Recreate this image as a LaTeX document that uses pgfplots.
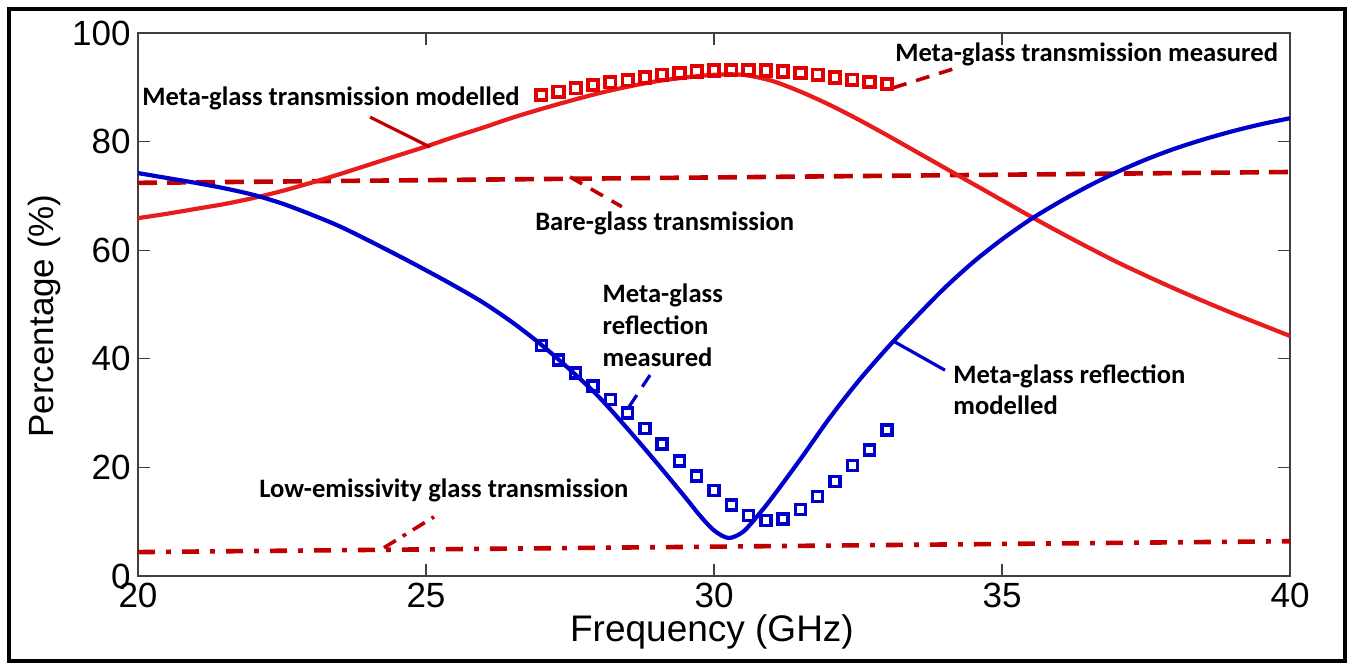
\documentclass[border=0pt]{standalone}
\usepackage{fontspec}
\setmainfont{Liberation Sans}
\newfontfamily\carlito{Carlito}
\usepackage{pgfplots}
\pgfplotsset{compat=1.18}
\definecolor{mred}{RGB}{232,28,28}
\definecolor{dred}{RGB}{192,0,0}
\definecolor{mblue}{RGB}{0,0,205}
\definecolor{sred}{RGB}{228,0,0}
\tikzset{annot/.style={font=\carlito\bfseries\fontsize{13.3}{16}\selectfont, anchor=base west, inner sep=0pt, text=black}}
\begin{document}
\begin{tikzpicture}
\useasboundingbox (0,0) rectangle (677pt,336pt);
\begin{axis}[
  at={(69pt,48pt)}, anchor=south west,
  width=576pt, height=271.5pt, scale only axis,
  xmin=20, xmax=40, ymin=0, ymax=100,
  xtick={20,25,30,35,40}, ytick={0,20,40,60,80,100},
  tick align=inside, major tick length=6pt,
  xtick pos=both, ytick pos=both,
  xticklabel pos=lower, yticklabel pos=left,
  axis line style={black!75, line width=0.6pt},
  tick style={black!75, line width=0.6pt},
  ticklabel style={font=\fontsize{17.5}{20}\selectfont},
  yticklabel style={inner xsep=3.5pt},
  /pgf/number format/assume math mode=true,
]
% bare-glass transmission
\addplot[dred, line width=2.3pt, dash pattern=on 9.5pt off 5pt] coordinates {(20,72.4) (25,72.9) (30,73.4) (35,73.9) (40,74.4)};
% low-emissivity glass transmission
\addplot[dred, line width=2.3pt, dash pattern=on 8.5pt off 5.6pt on 2.3pt off 5.6pt] coordinates {(20,4.4) (25,4.9) (30,5.4) (35,5.9) (40,6.4)};
% meta-glass transmission modelled
\addplot[mred, line width=2.1pt, smooth] coordinates {
(20,65.9) (20.5,66.7) (21,67.6) (21.5,68.5) (22,69.6) (22.5,70.9) (23,72.4) (23.5,74.0)
(24,75.7) (24.5,77.4) (25,79.1) (25.5,80.9) (26,82.6) (26.5,84.4) (27,86.0) (27.5,87.5)
(28,88.9) (28.5,90.1) (29,91.1) (29.5,91.8) (30,92.3) (30.5,92.3) (31,91.2) (31.5,89.2)
(32,86.8) (32.5,84.1) (33,81.2) (33.5,78.2) (34,75.2) (34.5,72.2) (35,69.2) (35.5,66.2)
(36,63.3) (36.5,60.5) (37,57.8) (37.5,55.3) (38,52.9) (38.5,50.6) (39,48.4) (39.5,46.3)
(40,44.2)};
% meta-glass reflection modelled
\addplot[mblue, line width=2.1pt, smooth] coordinates {
(20,74.2) (20.5,73.3) (21,72.4) (21.5,71.4) (22,70.2) (22.5,68.6) (23,66.6) (23.5,64.4)
(24,61.8) (24.5,59.1) (25,56.3) (25.5,53.4) (26,50.3) (26.5,46.7) (27,42.6) (27.5,38.0)
(28,33.0) (28.5,27.1) (29,20.9) (29.5,14.5) (29.75,11.2) (30,8.4) (30.25,7.0) (30.5,8.1)
(30.75,11.0) (31,14.3) (31.5,21.5) (32,29.0) (32.5,35.8) (33,41.9) (33.5,47.6) (34,53.0)
(34.5,57.8) (35,62.0) (35.5,65.7) (36,68.9) (36.5,71.8) (37,74.4) (37.5,76.7) (38,78.7)
(38.5,80.4) (39,81.9) (39.5,83.2) (40,84.3)};
% meta-glass transmission measured
\addplot[only marks, sred, mark=square, mark size=2.6pt, mark options={line width=1.9pt, solid}] coordinates {
(27.0,88.6) (27.3,89.2) (27.6,89.8) (27.9,90.4) (28.2,90.9) (28.5,91.3) (28.8,91.8)
(29.1,92.3) (29.4,92.6) (29.7,92.9) (30.0,93.1) (30.3,93.2) (30.6,93.2) (30.9,93.1)
(31.2,92.9) (31.5,92.6) (31.8,92.3) (32.1,91.8) (32.4,91.4) (32.7,91.0) (33.0,90.6)};
% meta-glass reflection measured
\addplot[only marks, mblue, mark=square, mark size=2.5pt, mark options={line width=1.7pt, solid}] coordinates {
(27.0,42.5) (27.3,39.8) (27.6,37.4) (27.9,35.0) (28.2,32.5) (28.5,30.0) (28.8,27.2)
(29.1,24.3) (29.4,21.2) (29.7,18.4) (30.0,15.7) (30.3,13.1) (30.6,11.1) (30.9,10.2)
(31.2,10.5) (31.5,12.3) (31.8,14.6) (32.1,17.4) (32.4,20.3) (32.7,23.2) (33.0,26.9)};
% pointers
\draw[dred, line width=1.6pt] (axis cs:24.03,84.5) -- (axis cs:25.07,79.0);
\draw[dred, line width=1.8pt, dash pattern=on 7pt off 5pt] (axis cs:33.11,89.9) -- (axis cs:34.22,93.6);
\draw[dred, line width=1.8pt, dash pattern=on 7pt off 5pt] (axis cs:27.5,73.5) -- (axis cs:28.4,68.0);
\draw[mblue, line width=1.6pt, dash pattern=on 7pt off 5pt] (axis cs:28.89,37.0) -- (axis cs:28.49,30.6);
\draw[mblue, line width=1.6pt] (axis cs:33.14,43.1) -- (axis cs:34.01,37.9);
\draw[dred, line width=1.8pt, dash pattern=on 7pt off 4pt on 2pt off 4pt] (axis cs:24.27,5.2) -- (axis cs:25.14,10.9);
% labels
\node[annot] at (axis cs:20.07,86.7) {Meta-glass transmission modelled};
\node[annot] at (axis cs:33.14,94.7) {Meta-glass transmission measured};
\node[annot] at (axis cs:26.89,63.7) {Bare-glass transmission};
\node[annot] at (axis cs:28.06,50.3) {Meta-glass};
\node[annot] at (axis cs:28.06,44.4) {reflection};
\node[annot] at (axis cs:28.06,38.5) {measured};
\node[annot] at (axis cs:34.15,35.5) {Meta-glass reflection};
\node[annot] at (axis cs:34.15,29.8) {modelled};
\node[annot] at (axis cs:22.1,14.4) {Low-emissivity glass transmission};
\end{axis}
\node[anchor=base, font=\fontsize{18.5}{22}\selectfont] at (356pt,15pt) {Frequency (GHz)};
\node[anchor=base, rotate=90, font=\fontsize{17.5}{21}\selectfont] at (26.5pt,178pt) {Percentage (\%)};
\draw[line width=2.2pt, black] (4.5pt,5.5pt) rectangle (672.5pt,331.5pt);
\end{tikzpicture}
\end{document}
